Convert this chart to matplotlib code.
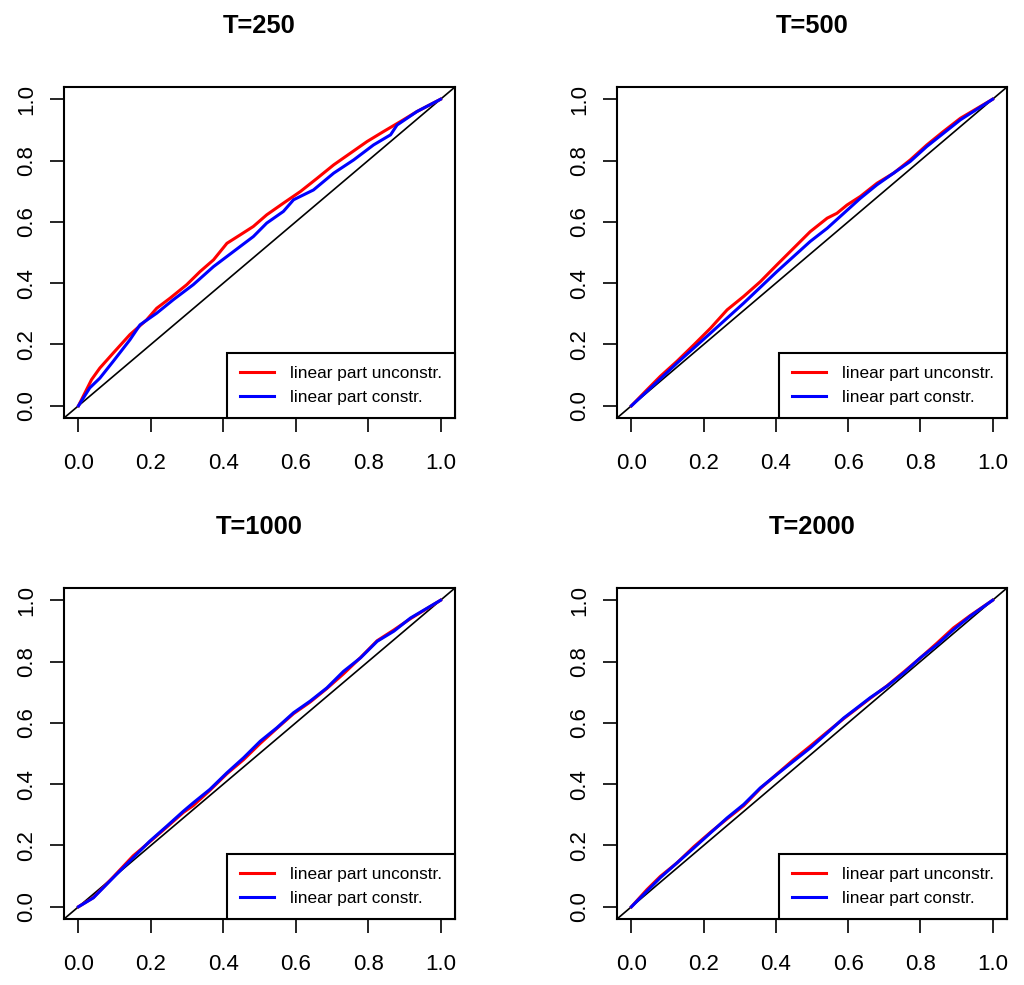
import matplotlib
matplotlib.use("Agg")
import matplotlib.pyplot as plt

plt.rcParams['font.family'] = ['Liberation Sans', 'DejaVu Sans']

titles = ["T=250", "T=500", "T=1000", "T=2000"]
labels = ["linear part unconstr.", "linear part constr."]
ticks = [0.0, 0.2, 0.4, 0.6, 0.8, 1.0]
tick_labels = ["0.0", "0.2", "0.4", "0.6", "0.8", "1.0"]

# T=250
x_red_250 = [0, 0.036, 0.059, 0.096, 0.142, 0.188, 0.216, 0.253, 0.299, 0.336, 0.373, 0.410,
             0.446, 0.483, 0.520, 0.566, 0.613, 0.659, 0.705, 0.751, 0.797, 0.843, 0.889, 0.935, 1.0]
y_red_250 = [0, 0.085, 0.123, 0.172, 0.232, 0.280, 0.318, 0.351, 0.395, 0.438, 0.476, 0.530,
             0.557, 0.585, 0.623, 0.661, 0.699, 0.742, 0.786, 0.824, 0.862, 0.895, 0.927, 0.960, 1.0]
x_blue_250 = [0, 0.031, 0.059, 0.096, 0.142, 0.170, 0.216, 0.262, 0.317, 0.373, 0.428, 0.483,
              0.520, 0.566, 0.594, 0.649, 0.705, 0.760, 0.815, 0.862, 0.880, 0.935, 1.0]
y_blue_250 = [0, 0.058, 0.090, 0.145, 0.215, 0.264, 0.302, 0.346, 0.395, 0.454, 0.503, 0.552,
              0.596, 0.634, 0.672, 0.704, 0.759, 0.802, 0.851, 0.884, 0.916, 0.960, 1.0]

# T=500
x_red_500 = [0, 0.043, 0.080, 0.126, 0.173, 0.219, 0.265, 0.311, 0.357, 0.403, 0.449, 0.495,
             0.542, 0.569, 0.597, 0.634, 0.680, 0.726, 0.772, 0.818, 0.864, 0.911, 1.0]
y_red_500 = [0, 0.052, 0.096, 0.145, 0.199, 0.253, 0.313, 0.357, 0.405, 0.460, 0.514, 0.568,
             0.612, 0.628, 0.655, 0.683, 0.726, 0.759, 0.802, 0.851, 0.895, 0.938, 1.0]
x_blue_500 = [0, 0.043, 0.126, 0.219, 0.311, 0.403, 0.495, 0.542, 0.588, 0.634, 0.680, 0.726,
              0.772, 0.818, 0.864, 0.911, 1.0]
y_blue_500 = [0, 0.047, 0.139, 0.237, 0.335, 0.438, 0.536, 0.579, 0.628, 0.677, 0.721, 0.759,
              0.797, 0.846, 0.889, 0.933, 1.0]

# T=1000
x_red_1000 = [0, 0.041, 0.096, 0.151, 0.197, 0.244, 0.290, 0.317, 0.363, 0.410, 0.456, 0.502,
              0.548, 0.594, 0.640, 0.686, 0.732, 0.779, 0.825, 0.871, 0.917, 1.0]
y_red_1000 = [0, 0.030, 0.097, 0.166, 0.212, 0.260, 0.308, 0.330, 0.380, 0.434, 0.480, 0.533,
              0.582, 0.630, 0.668, 0.712, 0.760, 0.813, 0.868, 0.903, 0.940, 1.0]
x_blue_1000 = [0, 0.041, 0.096, 0.151, 0.197, 0.244, 0.290, 0.317, 0.363, 0.410, 0.456, 0.502,
               0.548, 0.594, 0.640, 0.686, 0.732, 0.779, 0.825, 0.871, 0.917, 1.0]
y_blue_1000 = [0, 0.029, 0.095, 0.160, 0.214, 0.263, 0.312, 0.339, 0.383, 0.437, 0.486, 0.540,
               0.584, 0.633, 0.671, 0.714, 0.768, 0.812, 0.866, 0.899, 0.942, 1.0]

# T=2000
x_red_2000 = [0, 0.043, 0.080, 0.126, 0.173, 0.219, 0.265, 0.311, 0.357, 0.403, 0.449, 0.495,
              0.542, 0.588, 0.618, 0.661, 0.708, 0.754, 0.800, 0.846, 0.892, 0.938, 1.0]
y_red_2000 = [0, 0.056, 0.099, 0.143, 0.196, 0.243, 0.287, 0.330, 0.386, 0.433, 0.480, 0.524,
              0.570, 0.614, 0.641, 0.680, 0.721, 0.766, 0.812, 0.860, 0.910, 0.950, 1.0]
x_blue_2000 = [0, 0.043, 0.080, 0.126, 0.173, 0.219, 0.265, 0.311, 0.357, 0.403, 0.449, 0.495,
               0.542, 0.588, 0.618, 0.661, 0.708, 0.754, 0.800, 0.846, 0.892, 0.938, 1.0]
y_blue_2000 = [0, 0.051, 0.095, 0.143, 0.192, 0.241, 0.290, 0.334, 0.388, 0.432, 0.475, 0.518,
               0.567, 0.616, 0.643, 0.682, 0.720, 0.763, 0.812, 0.855, 0.904, 0.948, 1.0]

panels = [
    (x_red_250, y_red_250, x_blue_250, y_blue_250),
    (x_red_500, y_red_500, x_blue_500, y_blue_500),
    (x_red_1000, y_red_1000, x_blue_1000, y_blue_1000),
    (x_red_2000, y_red_2000, x_blue_2000, y_blue_2000),
]

W, H = 1024, 985
fig = plt.figure(figsize=(W / 100, H / 100), dpi=100)

# axes boxes in pixels: left, top, right, bottom
boxes = [(64, 87, 455, 418), (617, 87, 1007, 418),
         (64, 588, 455, 919), (617, 588, 1007, 919)]

for (l, t, r, b), title, (xr, yr, xb, yb) in zip(boxes, titles, panels):
    ax = fig.add_axes([l / W, 1 - b / H, (r - l) / W, (b - t) / H])
    ax.plot(xr, yr, color="#ff0000", lw=2.2, label=labels[0], zorder=3)
    ax.plot(xb, yb, color="#0000ff", lw=2.2, label=labels[1], zorder=4)
    ax.axline((0, 0), (1, 1), color="black", lw=1.2, zorder=2)
    ax.set_xlim(-0.04, 1.04)
    ax.set_ylim(-0.04, 1.04)
    ax.set_xticks(ticks)
    ax.set_xticklabels(tick_labels)
    ax.set_yticks(ticks)
    ax.set_yticklabels(tick_labels, rotation=90, va="center")
    ax.tick_params(axis="both", direction="out", length=10, width=1.2,
                   labelsize=16, colors="black")
    ax.tick_params(axis="x", pad=15)
    ax.tick_params(axis="y", pad=9)
    for s in ax.spines.values():
        s.set_linewidth(1.5)
    ax.set_title(title, fontsize=18.4, fontweight="bold", pad=39)
    leg = ax.legend(loc="lower right", bbox_to_anchor=(1.0, 0.0), borderaxespad=0,
                    fancybox=False, edgecolor="black", framealpha=1, fontsize=12.4,
                    handlelength=1.95, handletextpad=0.92, labelspacing=0.48,
                    borderpad=0.78)
    leg.get_frame().set_linewidth(1.5)
    leg.set_zorder(5)

fig.savefig("out.png", dpi=100)
